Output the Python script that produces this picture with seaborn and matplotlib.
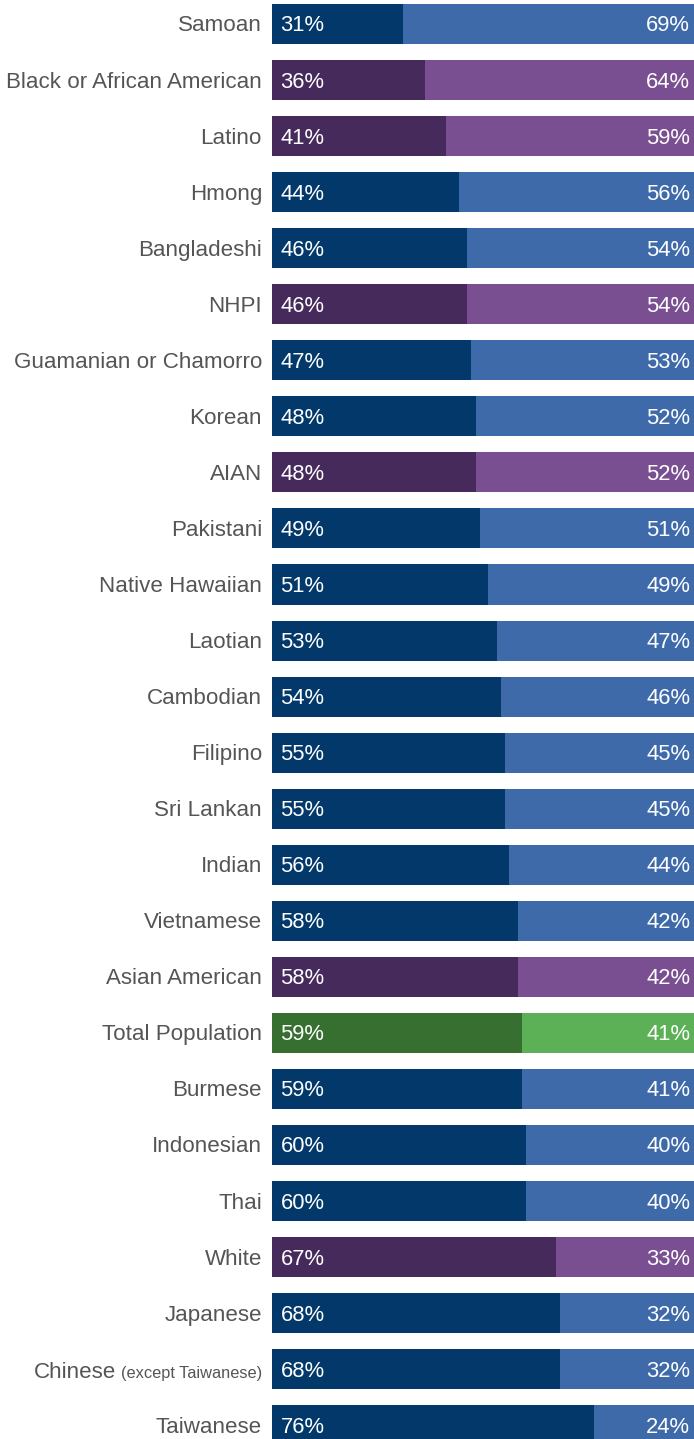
import numpy as np
import pandas as pd
import matplotlib
matplotlib.use("Agg")
import matplotlib.pyplot as plt
import seaborn as sns

groups = ["Samoan", "Black or African American", "Latino", "Hmong", "Bangladeshi", "NHPI",
          "Guamanian or Chamorro", "Korean", "AIAN", "Pakistani", "Native Hawaiian", "Laotian",
          "Cambodian", "Filipino", "Sri Lankan", "Indian", "Vietnamese", "Asian American",
          "Total Population", "Burmese", "Indonesian", "Thai", "White", "Japanese",
          "Chinese", "Taiwanese"]
left_pct = [31, 36, 41, 44, 46, 46, 47, 48, 48, 49, 51, 53, 54, 55, 55, 56, 58, 58, 59, 59,
            60, 60, 67, 68, 68, 76]
right_pct = [69, 64, 59, 56, 54, 54, 53, 52, 52, 51, 49, 47, 46, 45, 45, 44, 42, 42, 41, 41,
             40, 40, 33, 32, 32, 24]
kind = ["asian", "race", "race", "asian", "asian", "race", "asian", "asian", "race", "asian",
        "asian", "asian", "asian", "asian", "asian", "asian", "asian", "race", "total", "asian",
        "asian", "asian", "race", "asian", "asian", "asian"]

dark = {"asian": "#02386A", "race": "#472A5C", "total": "#376F31"}
light = {"asian": "#3F6AAA", "race": "#7A4F92", "total": "#5CB157"}

df = pd.DataFrame({"group": groups, "left": left_pct, "right": right_pct, "kind": kind})
df["total"] = df["left"] + df["right"]

W, H = 694, 1439
fig = plt.figure(figsize=(W / 100, H / 100), dpi=100)
ax = fig.add_axes([272 / W, 0, 424 / W, 1])

sns.barplot(data=df, x="total", y="group", hue="group", orient="h", width=40 / 56,
            palette=[light[k] for k in kind], legend=False, ax=ax, saturation=1)
sns.barplot(data=df, x="left", y="group", hue="group", orient="h", width=40 / 56,
            palette=[dark[k] for k in kind], legend=False, ax=ax, saturation=1)

pitch = 56.05
ax.set_xlim(0, 100)
ax.set_ylim((H - 24) / pitch, -24 / pitch)
ax.axis("off")

font = "Liberation Sans"
fs = 15.8
lfs = 16.1
dy = 0.035
for i, row in df.iterrows():
    ax.text(2, i + dy, f"{row['left']}%", color="white", fontsize=fs, family=font,
            ha="left", va="center")
    ax.text(98.6, i + dy, f"{row['right']}%", color="white", fontsize=fs, family=font,
            ha="right", va="center")

label_x = -10 / 424 * 100
for i, g in enumerate(groups):
    if g == "Chinese":
        small = ax.text(label_x, i, "(except Taiwanese)", color="#555555", fontsize=11.8,
                        family=font, ha="right", va="baseline")
        continue
    ax.text(label_x, i + dy, g, color="#555555", fontsize=lfs, family=font,
            ha="right", va="center")

# put "Chinese" just left of the small note, sharing its baseline
ci = groups.index("Chinese")
tmp = ax.text(label_x, ci + dy, "Chinese", fontsize=lfs, family=font, va="center")
fig.canvas.draw()
cb = tmp.get_window_extent()
tmp.remove()
base = cb.y0 + 3.5
small.set_y(ax.transData.inverted().transform((0, base))[1])
fig.canvas.draw()
bb = small.get_window_extent()
ax.text(bb.x0 - 5, base, "Chinese", color="#555555", fontsize=lfs, family=font,
        ha="right", va="baseline", transform=None)

fig.savefig("out.png", dpi=100)
